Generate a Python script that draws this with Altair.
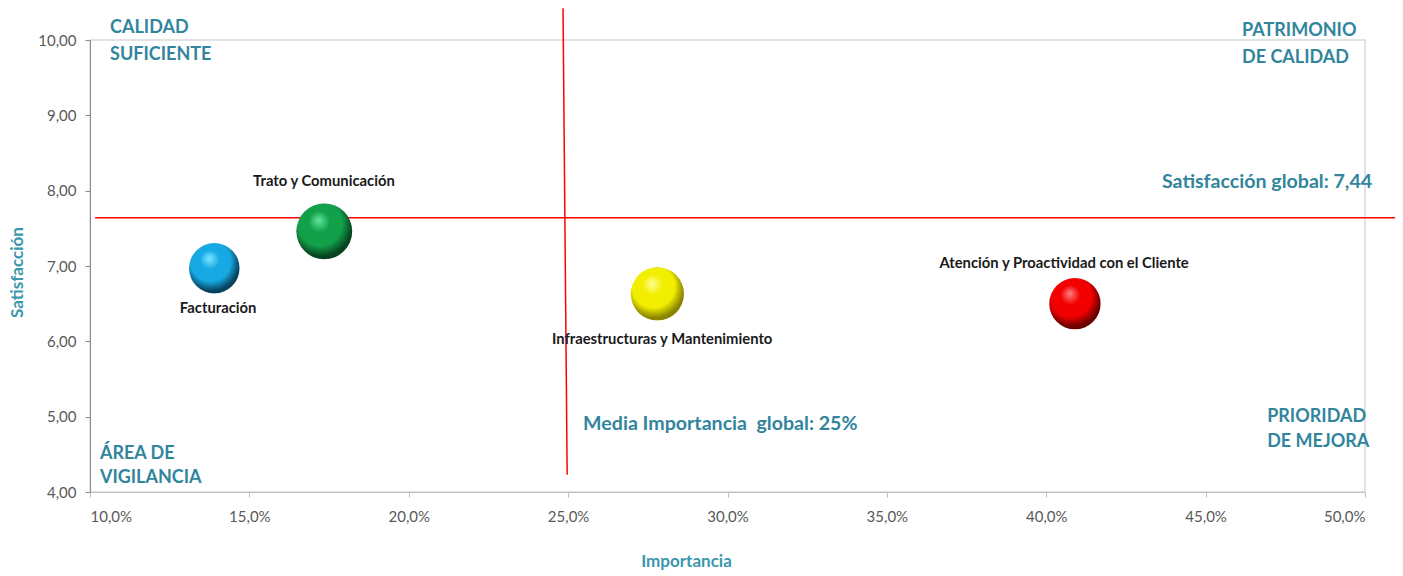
import altair as alt
import pandas as pd

# --- data ---
categorias = ["Facturación", "Trato y Comunicación",
              "Infraestructuras y Mantenimiento", "Atención y Proactividad con el Cliente"]
importancia = [13.9, 17.35, 27.8, 40.9]      # %
satisfaccion = [6.97, 7.46, 6.63, 6.50]
peso = [2.55, 3.12, 2.83, 2.64]               # bubble weight

etiqueta_x = [14.02, 17.34, 27.95, 40.56]
etiqueta_y = [6.43, 8.115, 6.02, 7.03]

# gradient colours (highlight, body, shadow)
tonos = [("#7FE8FF", "#17A9E3", "#08425F"),
         ("#62E69C", "#12A04B", "#07431F"),
         ("#FFFF9A", "#F2EE00", "#8A8500"),
         ("#FF8080", "#F20000", "#6A0000")]

# reference lines
linea_h_y = 7.64
linea_h_x = [10.16, 50.94]
linea_v_x = [24.84, 24.97]
linea_v_y = [10.42, 4.23]

# quadrant texts
cuadrante_txt = ["CALIDAD", "SUFICIENTE", "PATRIMONIO", "DE CALIDAD",
                 "ÁREA DE", "VIGILANCIA", "PRIORIDAD", "DE MEJORA"]
cuadrante_x = [10.63, 10.63, 46.14, 46.14, 10.31, 10.31, 46.93, 46.93]
cuadrante_y = [10.16, 9.80, 10.12, 9.76, 4.51, 4.19, 4.995, 4.663]

# reference-line captions
nota_txt = ["Satisfacción global: 7,44", "Media Importancia\u00a0\u00a0global: 25%"]
nota_x = [43.63, 25.47]
nota_y = [8.118, 4.906]

x_ticks = [10, 15, 20, 25, 30, 35, 40, 45, 50]
y_ticks = [4, 5, 6, 7, 8, 9, 10]

TEAL = "#31859C"
FONT = "Lato"

df = pd.DataFrame({"cat": categorias, "imp": importancia, "sat": satisfaccion,
                   "peso": peso, "lx": etiqueta_x, "ly": etiqueta_y})
df_q = pd.DataFrame({"t": cuadrante_txt, "x": cuadrante_x, "y": cuadrante_y})
df_n = pd.DataFrame({"t": nota_txt, "x": nota_x, "y": nota_y})
df_h = pd.DataFrame({"x": [linea_h_x[0]], "x2": [linea_h_x[1]], "y": [linea_h_y]})
df_v = pd.DataFrame({"x": [linea_v_x[0]], "x2": [linea_v_x[1]],
                     "y": [linea_v_y[0]], "y2": [linea_v_y[1]]})

xscale = alt.Scale(domain=[10, 50], nice=False, zero=False)
yscale = alt.Scale(domain=[4, 10], nice=False, zero=False)

xaxis = alt.Axis(values=x_ticks, grid=False,
                 labelExpr="replace(format(datum.value, '.1f'), '.', ',') + '%'",
                 domainColor="#BFBFBF", tickColor="#BFBFBF", tickSize=5,
                 labelColor="#595959", labelFontSize=15, labelFont=FONT, labelPadding=12,
                 title="Importancia", titleColor="#3A97AD", titleFontSize=17, titleFont=FONT,
                 titleFontWeight="bold", titlePadding=29, titleX=596)
yaxis = alt.Axis(values=y_ticks, grid=False,
                 labelExpr="replace(format(datum.value, '.2f'), '.', ',')",
                 domainColor="#8C8C8C", tickColor="#8C8C8C", tickSize=5,
                 labelColor="#595959", labelFontSize=15, labelFont=FONT, labelPadding=9,
                 title="Satisfacción", titleColor="#3A97AD", titleFontSize=17, titleFont=FONT,
                 titleFontWeight="bold", titlePadding=11, titleY=232)

base = alt.Chart(df)

hline = alt.Chart(df_h).mark_rule(color="#FF0000", strokeWidth=1.5).encode(
    x=alt.X("x:Q", scale=xscale, axis=xaxis), x2="x2:Q",
    y=alt.Y("y:Q", scale=yscale, axis=yaxis))
vline = alt.Chart(df_v).mark_rule(color="#FF0000", strokeWidth=1.5).encode(
    x=alt.X("x:Q", scale=xscale), x2="x2:Q",
    y=alt.Y("y:Q", scale=yscale), y2="y2:Q")

bubbles = []
for name, (hi, mid, lo) in zip(categorias, tonos):
    grad = alt.RadialGradient(
        gradient="radial", x1=0.4, y1=0.3, r1=0.0, x2=0.44, y2=0.4, r2=0.64,
        stops=[alt.GradientStop(offset=0, color=hi),
               alt.GradientStop(offset=0.3, color=mid),
               alt.GradientStop(offset=0.62, color=mid),
               alt.GradientStop(offset=0.88, color=lo),
               alt.GradientStop(offset=1, color=lo)])
    b = base.transform_filter(alt.datum.cat == name).mark_circle(
        fill=grad, opacity=1, strokeWidth=0).encode(
        x=alt.X("imp:Q", scale=xscale),
        y=alt.Y("sat:Q", scale=yscale),
        size=alt.Size("peso:Q", scale=alt.Scale(domain=[0, 3.12], range=[0, 3117]), legend=None))
    bubbles.append(b)

labels = base.mark_text(font=FONT, fontSize=14.8, fontWeight="bold", color="#1A1A1A",
                        align="center", baseline="middle").encode(
    x=alt.X("lx:Q", scale=xscale), y=alt.Y("ly:Q", scale=yscale), text="cat:N")

quad = alt.Chart(df_q).mark_text(font=FONT, fontSize=18, fontWeight="bold", color=TEAL,
                                 align="left", baseline="middle").encode(
    x=alt.X("x:Q", scale=xscale), y=alt.Y("y:Q", scale=yscale), text="t:N")

notas = alt.Chart(df_n).mark_text(font=FONT, fontSize=19.6, fontWeight="bold", color=TEAL,
                                  align="left", baseline="middle").encode(
    x=alt.X("x:Q", scale=xscale), y=alt.Y("y:Q", scale=yscale), text="t:N")

chart = alt.layer(hline, vline, *bubbles, labels, quad, notas).properties(
    width=1275, height=452,
    padding={"left": 90, "top": 40, "right": 38, "bottom": 84},
    autosize=alt.AutoSizeParams(type="none"),
    background="white",
).configure_view(stroke="#D9D9D9", strokeWidth=1.5)

chart.save("out.html", embed_options={"renderer": "svg", "actions": False})
